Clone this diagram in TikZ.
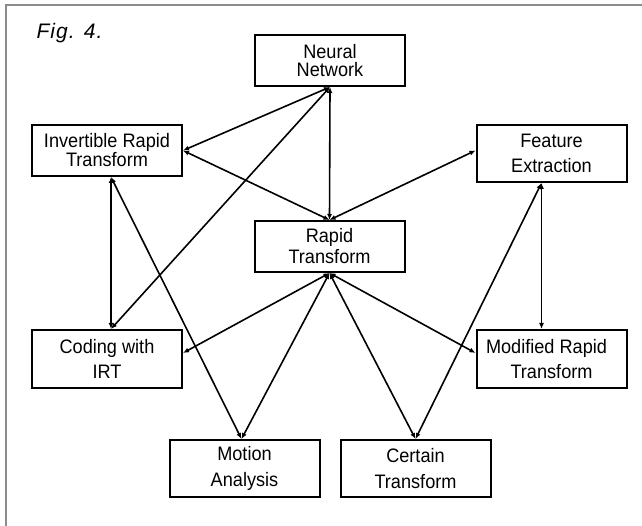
\documentclass[tikz,border=0pt]{standalone}
\usepackage{fontspec}
\setmainfont{Liberation Sans}[FakeStretch=0.93]
\newfontfamily\figfont[LetterSpace=5]{Liberation Sans}
\usetikzlibrary{arrows.meta}
\tikzset{
  box/.style={draw, line width=2pt, minimum width=150pt, align=center,
    inner sep=0pt, font=\fontsize{19.5}{25}\selectfont},
  link/.style={line width=1.6pt,
    {Latex[length=6pt,width=5pt]}-{Latex[length=6pt,width=5pt]}},
  frame/.style={draw=black!45, line width=1.3pt}
}
\begin{document}
\begin{tikzpicture}[x=1pt,y=-1pt]
  \useasboundingbox (0,0) rectangle (642,526);
  % outer frame (top and left edges)
  \draw[frame] (6,526) -- (6,5) -- (642,5);
  \node[anchor=base west, font=\figfont\itshape\fontsize{21}{24}\selectfont] (fig) at (33,39) {Fig. 4.};

  % blocks
  \node[box, minimum height=51pt, font=\fontsize{19.5}{18.5}\selectfont] (nn) at (330,60.5) {Neural\\Network};
  \node[box, minimum height=51pt, font=\fontsize{19.5}{19}\selectfont] (irt) at (107,150.5) {Invertible Rapid\\Transform};
  \node[box, minimum height=57pt] (fe) at (551.5,153.5) {Feature\\Extraction};
  \node[box, minimum height=51pt, font=\fontsize{19.5}{21}\selectfont] (rt) at (329.5,246.5) {Rapid\\Transform};
  \node[box, minimum height=58pt] (cw) at (107,359) {Coding with\\IRT};
  \node[box, minimum height=58pt] (mrt) at (551.5,359) {Modified Rapid\hspace*{10pt}\\Transform};
  \node[box, minimum height=57pt, font=\fontsize{19.5}{26}\selectfont] (ma) at (244.5,468.5) {Motion\\Analysis};
  \node[box, minimum height=57pt, font=\fontsize{19.5}{26}\selectfont] (ct) at (415.5,468.5) {Certain\\Transform};

  % connections
  \draw[link] (nn.south) -- (irt.east);
  \draw[link] (nn.south) -- ([xshift=4pt]cw.north);
  \draw[link] (nn.south) -- (rt.north);
  \draw[link] (irt.east) -- (rt.north);
  \draw[link] (rt.north) -- ([yshift=3pt]fe.west);
  \draw[link] ([xshift=4pt]irt.south) -- ([xshift=4pt]cw.north);
  \draw[link] ([xshift=4pt]irt.south) -- ([xshift=-3pt]ma.north);
  \draw[link] (rt.south) -- ([yshift=6pt]cw.east);
  \draw[link] (rt.south) -- ([xshift=-3pt]ma.north);
  \draw[link] (rt.south) -- (ct.north);
  \draw[link] (rt.south) -- ([yshift=6pt]mrt.west);
  \draw[link] ([xshift=-10pt]fe.south) -- ([xshift=-10pt]mrt.north);
  \draw[link] ([xshift=-10pt]fe.south) -- (ct.north);
\end{tikzpicture}
\end{document}
